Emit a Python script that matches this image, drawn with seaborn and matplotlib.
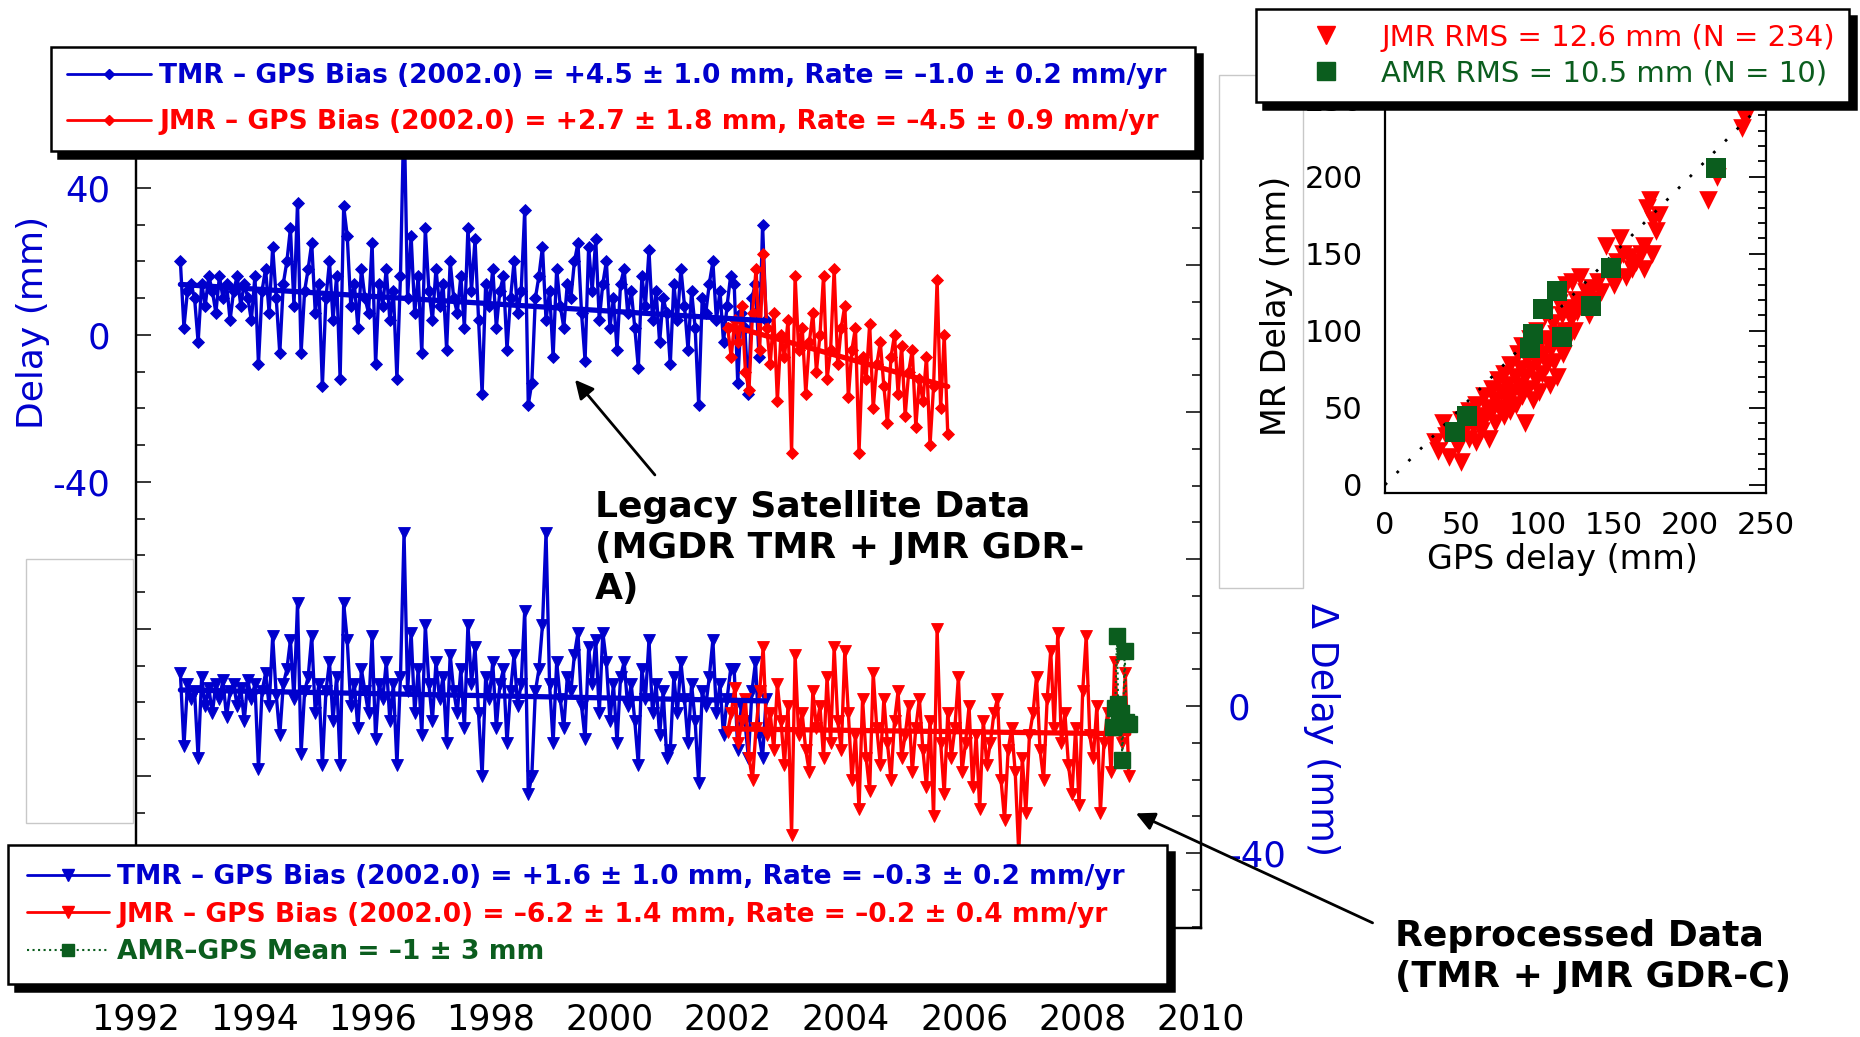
import numpy as np
import matplotlib
matplotlib.use("Agg")
import matplotlib.pyplot as plt
from matplotlib.lines import Line2D
from matplotlib.patches import Rectangle
from matplotlib.ticker import FixedLocator, MultipleLocator, FuncFormatter
import seaborn as sns

BLUE = '#0000CD'
RED = '#FF0000'
GREEN = '#0B5D1E'

# time series sampling: first decimal year, spacing (years)
TMR_START = 1992.75
JMR_START = 2002.0
STEP = 0.06

# legacy data (left axis, mm)
TMR_TOP = [20, 2, 12, 14, 10, -2, 14, 8, 16, 12,
           6, 16, 10, 14, 4, 12, 16, 8, 14, 10,
           4, 16, -8, 12, 18, 6, 24, 10, -5, 14,
           20, 29, 8, 36, -5, 12, 18, 25, 6, 14,
           -14, 10, 20, 4, 16, -12, 35, 27, 8, 14,
           2, 18, 10, 6, 25, -8, 14, 8, 18, 4,
           12, -12, 16, 62, 10, 27, 6, 16, -5, 29,
           12, 4, 18, 8, 14, -4, 20, 10, 6, 16,
           2, 29, 12, 26, 4, -16, 14, 8, 18, 2,
           12, 16, -4, 10, 20, 6, 12, 34, -19, -13,
           10, 16, 24, 4, 12, -6, 18, 8, 2, 14,
           10, 20, 25, 6, -7, 24, 12, 26, 4, 14,
           20, 2, 10, -4, 14, 18, 6, 12, 2, -9,
           16, 8, 23, 4, 12, -2, 10, 6, -8, 14,
           4, 18, 8, -4, 12, 2, -19, 10, 6, 14,
           20, 4, 12, -2, 8, 16, 14, -13, 6, 2,
           -16, 10, 14, -6, 30, 4]
JMR_TOP = [2, -6, 4, -2, 8, -10, -15, 6, 18, -4,
           22, 2, -8, 6, -18, 0, -6, 4, -32, 16,
           -4, 2, -16, -2, 6, -10, 0, 16, -12, -4,
           18, -8, 2, 8, -17, -4, 2, -32, -6, -12,
           3, -20, -8, -2, -14, -24, -6, 0, -16, -3,
           -22, -10, -4, -25, -12, -18, -6, -30, -14, 15,
           -20, 0, -27]

# reprocessed data (right axis, mm)
TMR_BOT = [9, -11, 6, 2, 4, -14, 8, 0, 5, -2,
           6, 2, 7, -3, 4, 6, 0, 5, -4, 7,
           2, 6, -17, 4, 9, 0, 19, 3, -8, 6,
           10, 18, 2, 28, -13, 4, 8, 19, -2, 6,
           -16, 4, 12, -4, 8, -16, 28, 18, 0, 6,
           -6, 10, 4, -2, 19, -9, 6, 2, 12, -4,
           6, -16, 8, 47, 4, 20, -2, 10, -8, 22,
           6, -4, 12, 2, 8, -10, 14, 4, -2, 10,
           -6, 22, 6, 16, -2, -19, 8, 2, 12, -6,
           6, 10, -10, 4, 14, 0, 6, 26, -24, -19,
           4, 10, 22, 47, 6, -10, 12, 2, -6, 8,
           4, 14, 20, 0, -9, 16, 6, 18, -2, 20,
           12, -4, 6, -10, 8, 12, 0, 6, -4, -16,
           10, 2, 18, -2, 6, -8, 4, -14, -12, 8,
           -2, 12, 2, -10, 6, -4, -21, 4, 0, 8,
           18, -2, 6, -8, 2, 10, 10, -12, 0, -4,
           -14, 4, 12, -8, -14, 2]
JMR_BOT = [-7, -2, 5, -10, -4, 2, -14, -20, -6, 4,
           16, -8, -2, -12, 6, -4, -16, 0, -35, 14,
           -8, -2, -12, -18, 4, -6, 0, -14, 8, -10,
           16, -4, -12, 15, -2, -20, -8, -28, 2, -14,
           -23, 9, -6, -16, 2, -10, -20, -4, 4, -14,
           -8, 0, -18, -6, 2, -12, -22, -4, -30, 21,
           -10, -24, -2, -14, -6, 8, -18, -10, 0, -22,
           -8, -28, -4, -16, -10, -2, 2, -20, -31, -12,
           -6, -18, -40, -14, -29, -8, -2, 8, -12, -20,
           2, 15, -6, 20, -10, -2, -16, -24, -6, -27,
           4, 19, -8, -14, 0, -29, -10, -2, -18, 12,
           -6, -10, 9, -19]
AMR_T = [2008.51, 2008.55, 2008.58, 2008.60, 2008.62, 2008.65, 2008.67, 2008.71, 2008.74, 2008.78]
AMR_D = [-5.7, -0.5, 19.0, 0.5, -3.5, -2.0, -14.8, 15.0, -4.4, -4.9]

# fitted lines: bias at 2002.0 (mm), rate (mm/yr)
TMR_TOP_FIT = (4.5, -1.0)
JMR_TOP_FIT = (2.7, -4.5)
TMR_BOT_FIT = (1.6, -0.3)
JMR_BOT_FIT = (-6.2, -0.2)

# inset scatter (mm)
JMR_GPS = [33, 35, 38, 40, 42, 45, 48, 50, 50, 52,
           55, 55, 58, 60, 60, 62, 63, 65, 65, 67,
           68, 70, 70, 72, 72, 74, 75, 76, 78, 78,
           80, 80, 82, 82, 84, 85, 86, 87, 88, 89,
           90, 90, 92, 92, 93, 94, 95, 96, 97, 98,
           99, 100, 100, 101, 102, 103, 104, 105, 106, 107,
           108, 109, 110, 111, 112, 113, 114, 115, 116, 117,
           118, 119, 120, 121, 122, 123, 124, 125, 126, 128,
           130, 132, 134, 136, 138, 140, 142, 145, 148, 150,
           152, 154, 156, 158, 160, 162, 165, 168, 170, 172,
           174, 176, 178, 180, 170, 175, 212, 218, 236, 238, 234]
JMR_MR = [28, 22, 40, 32, 18, 30, 25, 15, 42, 35,
          48, 30, 38, 52, 28, 45, 35, 58, 42, 50,
          30, 62, 48, 55, 40, 68, 50, 60, 45, 72,
          55, 65, 48, 78, 60, 70, 52, 85, 64, 75,
          58, 90, 70, 40, 82, 62, 95, 75, 55, 88,
          68, 80, 100, 60, 92, 72, 85, 110, 78, 95,
          65, 88, 105, 80, 98, 70, 118, 90, 110, 85,
          100, 130, 95, 115, 108, 132, 100, 120, 112, 135,
          118, 125, 110, 128, 120, 132, 125, 155, 140, 130,
          145, 160, 150, 135, 148, 140, 145, 150, 155, 180,
          185, 172, 165, 175, 140, 150, 185, 200, 238, 245, 232]
AMR_GPS = [217, 148, 135, 113, 104, 97, 95, 116, 54, 46]
AMR_MR = [206, 141, 116, 126, 114, 98, 89, 96, 45, 34]

YEAR_TICKS = list(range(1992, 2011, 2))
LEFT_MAJOR = [-160, -120, -80, -40, 0, 40]
LEFT_LABELED = [-40, 0, 40]
RIGHT_MAJOR = [-40, 0, 40, 80, 120]
RIGHT_LABELED = [-40, 0]
DELTA_OFFSET = 101  # right axis value = left axis value + offset
LEFT_LIM = (-161.4, 58.5)

LEGEND_TOP = ['TMR – GPS Bias (2002.0) = +4.5 ± 1.0 mm, Rate = –1.0 ± 0.2 mm/yr',
              'JMR – GPS Bias (2002.0) = +2.7 ± 1.8 mm, Rate = –4.5 ± 0.9 mm/yr']
LEGEND_BOT = ['TMR – GPS Bias (2002.0) = +1.6 ± 1.0 mm, Rate = –0.3 ± 0.2 mm/yr',
              'JMR – GPS Bias (2002.0) = –6.2 ± 1.4 mm, Rate = –0.2 ± 0.4 mm/yr',
              'AMR–GPS Mean = –1 ± 3 mm']
LEGEND_INSET = ['JMR RMS = 12.6 mm (N = 234)', 'AMR RMS = 10.5 mm (N = 10)']

sns.set_theme(style='white')
plt.rcParams['font.family'] = ['DejaVu Sans']
plt.rcParams['axes.unicode_minus'] = False
plt.rcParams['text.color'] = 'black'

W, H = 1860, 1037
fig = plt.figure(figsize=(W / 100, H / 100), dpi=100)


def px(x0, y0, x1, y1):
    # pixel box (top-left origin) -> figure fraction rect
    return [x0 / W, 1 - y1 / H, (x1 - x0) / W, (y1 - y0) / H]


def series(axis, t, v, color, marker, ms):
    sns.lineplot(x=t, y=v, ax=axis, color=color, lw=2.4, marker=marker, markersize=ms,
                 markeredgecolor=color, markeredgewidth=0.6, estimator=None,
                 sort=False, legend=False)


def fit(axis, t, params, color):
    bias, rate = params
    tt = np.array([t[0], t[-1]])
    axis.plot(tt, bias + rate * (tt - 2002.0), color=color, lw=3.8, zorder=5)


# gray frames left over in the slide
for (x0, y0, x1, y1) in [(26, 559, 133, 823), (1219, 75, 1303, 588)]:
    r = px(x0, y0, x1, y1)
    fig.add_artist(Rectangle((r[0], r[1]), r[2], r[3], transform=fig.transFigure,
                             fill=False, edgecolor='#c8c8c8', lw=1, zorder=0.5))

ax = fig.add_axes(px(136, 120, 1201, 928))
ax2 = ax.twinx()

tmr_t = TMR_START + STEP * np.arange(len(TMR_TOP))
jmr_t_top = JMR_START + STEP * np.arange(len(JMR_TOP))
jmr_t_bot = JMR_START + STEP * np.arange(len(JMR_BOT))

series(ax, tmr_t, TMR_TOP, BLUE, 'D', 6)
series(ax, jmr_t_top, JMR_TOP, RED, 'D', 6)
fit(ax, tmr_t, TMR_TOP_FIT, BLUE)
fit(ax, jmr_t_top, JMR_TOP_FIT, RED)

series(ax2, tmr_t, TMR_BOT, BLUE, 'v', 9)
series(ax2, jmr_t_bot, JMR_BOT, RED, 'v', 9)
fit(ax2, tmr_t, TMR_BOT_FIT, BLUE)
fit(ax2, jmr_t_bot, JMR_BOT_FIT, RED)
ax2.plot(AMR_T, AMR_D, color=GREEN, ls=':', lw=1.5, marker='s', ms=12, zorder=6)

ax.set_xlim(1992, 2010)
ax.set_ylim(*LEFT_LIM)
ax2.set_ylim(LEFT_LIM[0] + DELTA_OFFSET, LEFT_LIM[1] + DELTA_OFFSET)

ax.xaxis.set_major_locator(FixedLocator(YEAR_TICKS))
ax.xaxis.set_major_formatter(FuncFormatter(lambda v, p: f'{v:.0f}'))
ax.tick_params(axis='x', direction='in', length=8, width=1.3, labelsize=25,
               pad=54, top=False, labelcolor='black')

ax.yaxis.set_major_locator(FixedLocator(LEFT_MAJOR))
ax.yaxis.set_minor_locator(MultipleLocator(10))
ax.yaxis.set_major_formatter(FuncFormatter(
    lambda v, p: f'{v:.0f}' if round(v) in LEFT_LABELED else ''))
ax.tick_params(axis='y', which='major', direction='in', length=10.8, width=1.3,
               labelsize=25.5, labelcolor=BLUE, pad=18.7, right=False, left=True)
ax.tick_params(axis='y', which='minor', direction='in', length=6.7, width=1.3,
               right=False, left=True)

ax2.yaxis.set_major_locator(FixedLocator(RIGHT_MAJOR))
ax2.yaxis.set_minor_locator(MultipleLocator(10))
ax2.yaxis.set_major_formatter(FuncFormatter(
    lambda v, p: f'{v:.0f}' if round(v) in RIGHT_LABELED else ''))
ax2.tick_params(axis='y', which='major', direction='in', length=10.8, width=1.3,
                labelsize=25.5, labelcolor=BLUE, pad=19.4)
ax2.tick_params(axis='y', which='minor', direction='in', length=6.7, width=1.3)

for a in (ax, ax2):
    for s in a.spines.values():
        s.set_linewidth(1.6)
        s.set_color('black')

ax.set_ylabel('Delay (mm)', fontsize=26, color=BLUE, va='center')
ax.yaxis.set_label_coords(-0.0967, 0.75)
ax2.set_ylabel('Δ Delay (mm)', fontsize=26.4, color=BLUE, rotation=270, va='center')
ax2.yaxis.set_label_coords(1.1136, 0.245)

arrow = dict(arrowstyle='-|>', color='black', lw=2, mutation_scale=28, shrinkA=0, shrinkB=0)
ax2.annotate('', xy=(1999.42, -12.2 + DELTA_OFFSET), xytext=(2000.77, -38.1 + DELTA_OFFSET),
             arrowprops=arrow, annotation_clip=False)
ax2.annotate('', xy=(2008.9, -130.2 + DELTA_OFFSET), xytext=(2012.9, -160 + DELTA_OFFSET),
             arrowprops=arrow, annotation_clip=False)

fig.text(594.6 / W, 1 - 548 / H, 'Legacy Satellite Data\n(MGDR TMR + JMR GDR-\nA)',
         fontsize=26, fontweight='bold', color='black', ha='left', va='center', linespacing=1.25)
fig.text(1394.6 / W, 1 - 956.7 / H, 'Reprocessed Data\n(TMR + JMR GDR-C)',
         fontsize=26, fontweight='bold', color='black', ha='left', va='center', linespacing=1.25)

# inset scatter
ax_in = fig.add_axes(px(1385, 84.5, 1766, 492.5))
sns.scatterplot(x=JMR_GPS, y=JMR_MR, ax=ax_in, marker='v', s=180, color=RED,
                edgecolor=RED, linewidth=0, legend=False, zorder=2)
ax_in.plot([0, 250], [0, 250], color='black', lw=2, ls=(0, (1, 5)), zorder=3)
sns.scatterplot(x=AMR_GPS, y=AMR_MR, ax=ax_in, marker='s', s=200, color=GREEN,
                edgecolor=GREEN, linewidth=0, legend=False, zorder=4)
ax_in.set_xlim(0, 250)
ax_in.set_ylim(-5, 260)
for axis in (ax_in.xaxis, ax_in.yaxis):
    axis.set_major_locator(MultipleLocator(50))
    axis.set_minor_locator(MultipleLocator(10))
ax_in.tick_params(which='major', direction='in', length=12, width=1.3,
                  top=True, right=True, labelsize=22, color='black', labelcolor='black')
ax_in.tick_params(which='minor', direction='in', length=6, width=1.3,
                  top=True, right=True, color='black')
ax_in.tick_params(axis='x', pad=13)
ax_in.tick_params(axis='y', pad=16)
for s in ax_in.spines.values():
    s.set_linewidth(1.6)
    s.set_color('black')
ax_in.set_ylabel('MR Delay (mm)', fontsize=24, color='black', va='center')
ax_in.yaxis.set_label_coords(-0.286, 0.457)
ax_in.set_xlabel('GPS delay (mm)', fontsize=24, color='black', va='center')
ax_in.xaxis.set_label_coords(0.4646, -0.165)

# legends
shadow = {'color': 'black', 'alpha': 1, 'ox': 5, 'oy': -5}

h_top = [Line2D([], [], color=BLUE, lw=2, marker='D', ms=5),
         Line2D([], [], color=RED, lw=2, marker='D', ms=5)]
leg = fig.legend(handles=h_top, labels=LEGEND_TOP, loc='upper left',
                 bbox_to_anchor=(50.6 / W, 1 - 47 / H - 0.1, 1144 / W, 0.1),
                 mode='expand', borderaxespad=0, fancybox=False, edgecolor='black',
                 framealpha=1, prop={'size': 19.1, 'weight': 'bold'},
                 labelcolor='linecolor', handlelength=3.2, handletextpad=0.3,
                 borderpad=0.6, labelspacing=0.75, numpoints=1, shadow=shadow)
leg.get_frame().set_linewidth(1.8)

h_bot = [Line2D([], [], color=BLUE, lw=2, marker='v', ms=8),
         Line2D([], [], color=RED, lw=2, marker='v', ms=8),
         Line2D([], [], color=GREEN, lw=1.5, ls=':', marker='s', ms=9)]
leg = fig.legend(handles=h_bot, labels=LEGEND_BOT, loc='upper left',
                 bbox_to_anchor=(7.8 / W, 1 - 845 / H - 0.1, 1159 / W, 0.1),
                 mode='expand', borderaxespad=0, fancybox=False, edgecolor='black',
                 framealpha=1, prop={'size': 19.1, 'weight': 'bold'},
                 labelcolor='linecolor', handlelength=3.1, handletextpad=0.3,
                 borderpad=0.72, labelspacing=0.43, numpoints=1, shadow=shadow)
leg.get_frame().set_linewidth(1.8)

h_in = [Line2D([], [], color=RED, ls='none', marker='v', ms=13.5),
        Line2D([], [], color=GREEN, ls='none', marker='s', ms=13.5)]
leg = fig.legend(handles=h_in, labels=LEGEND_INSET, loc='upper left',
                 bbox_to_anchor=(1256 / W, 1 - 9.4 / H - 0.1, 593 / W, 0.1),
                 mode='expand', borderaxespad=0, fancybox=False, edgecolor='black',
                 framealpha=1, prop={'size': 21},
                 labelcolor='linecolor', handlelength=3.8, handletextpad=0.0,
                 borderpad=0.49, labelspacing=0.26, numpoints=1, shadow=shadow)
leg.get_frame().set_linewidth(1.8)

fig.savefig('out.png', dpi=100)
